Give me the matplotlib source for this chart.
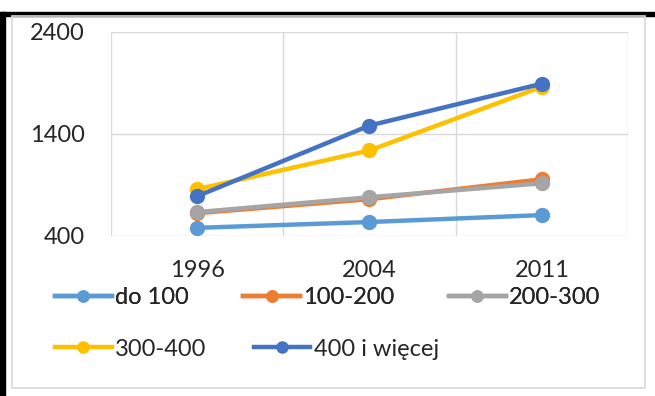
import numpy as np
import matplotlib.pyplot as plt
from matplotlib.patches import Rectangle
from matplotlib.lines import Line2D

years = ["1996", "2004", "2011"]
groups = ["do 100", "100-200", "200-300", "300-400", "400 i więcej"]
do_100 = [480, 537, 605]
g100_200 = [624, 761, 956]
g200_300 = [634, 780, 917]
g300_400 = [859, 1239, 1863]
g400_up = [790, 1483, 1893]
series = [do_100, g100_200, g200_300, g300_400, g400_up]
colors = ["#5B9BD5", "#ED7D31", "#A5A5A5", "#FFC000", "#4472C4"]

plt.rcParams['font.family'] = ['Lato', 'DejaVu Sans']

W, H = 655, 396
fig = plt.figure(figsize=(W / 100, H / 100), dpi=100)

# outer frame: black strips on top and left, light grey chart border
fig.patches.append(Rectangle((0, 1 - 16 / H), 1, 4 / H, transform=fig.transFigure,
                             color="black", zorder=0))
fig.patches.append(Rectangle((0, 0), 5 / W, 1 - 12 / H, transform=fig.transFigure,
                             color="black", zorder=0))
fig.patches.append(Rectangle((12 / W, 1 - 388 / H), (645 - 12) / W, (388 - 16) / H,
                             transform=fig.transFigure, facecolor="none",
                             edgecolor="#D9D9D9", lw=1.2, zorder=0))

ax = fig.add_axes([111 / W, 1 - 236 / H, (628 - 111) / W, (236 - 32) / H])
x = np.arange(len(years))
for vals, name, c in zip(series, groups, colors):
    ax.plot(x, vals, color=c, lw=3.2, marker="o", ms=10, label=name,
            solid_capstyle="round", clip_on=False)

ax.set_xlim(-0.5, 2.5)
ax.set_ylim(400, 2400)
ax.set_yticks([400, 1400, 2400])
ax.set_xticks(x)
ax.set_xticklabels(years)
ax.set_xticks([-0.5, 0.5, 1.5, 2.5], minor=True)
ax.grid(axis="y", color="#D9D9D9", lw=1)
ax.grid(axis="x", which="minor", color="#D9D9D9", lw=1)
ax.tick_params(axis="both", which="both", length=0, labelsize=17, colors="#262626")
ax.tick_params(axis="y", pad=19)
ax.tick_params(axis="x", pad=17)
for s in ax.spines.values():
    s.set_visible(False)

handles = [Line2D([], [], color=c, lw=3.2, marker="o", ms=8) for c in colors]
kw = dict(frameon=False, fontsize=17, handlelength=2.4, handletextpad=0.15,
          borderpad=0, borderaxespad=0, labelcolor="#262626")
leg1 = fig.legend(handles[:3], groups[:3], ncol=3, columnspacing=2.3,
                  loc="center left", bbox_to_anchor=(55 / W, 1 - 298 / H), **kw)
fig.add_artist(leg1)
fig.legend(handles[3:], groups[3:], ncol=2, columnspacing=2.0,
           loc="center left", bbox_to_anchor=(55 / W, 1 - 349 / H), **kw)

fig.savefig("out.png", dpi=100)
